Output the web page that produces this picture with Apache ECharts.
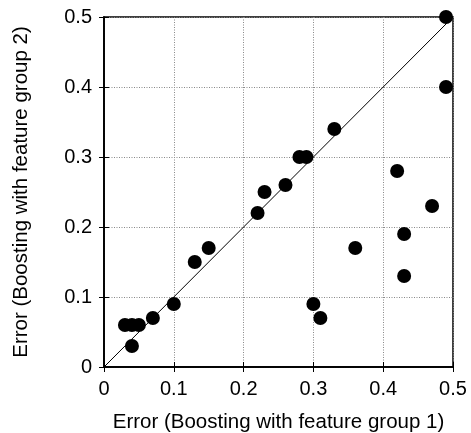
<!DOCTYPE html>
<html><head><meta charset="utf-8">
<script src="https://cdn.jsdelivr.net/npm/echarts@6/dist/echarts.min.js"></script>
<style>html,body{margin:0;padding:0;background:#fff}#c{width:471px;height:433px}</style>
</head><body><div id="c"></div>
<script>
const xTitle = 'Error (Boosting with feature group 1)';
const yTitle = 'Error (Boosting with feature group 2)';
const group1Error = [0.49,0.49,0.33,0.28,0.29,0.42,0.26,0.23,0.22,0.47,0.43,0.36,0.15,0.13,0.43,0.10,0.30,0.31,0.07,0.03,0.04,0.05,0.04];
const group2Error = [0.50,0.40,0.34,0.30,0.30,0.28,0.26,0.25,0.22,0.23,0.19,0.17,0.17,0.15,0.13,0.09,0.09,0.07,0.07,0.06,0.06,0.06,0.03];
const diagonal = [[0,0],[0.5,0.5]];
const tickLabels = ['0','0.1','0.2','0.3','0.4','0.5'];

const pts = group1Error.map((x,i)=>[x, group2Error[i]]);
const font = 'Liberation Sans, Arial, sans-serif';
const fmt = v => tickLabels[Math.round(v*10)];
const axisCommon = {
  type:'value', min:0, max:0.5, interval:0.1,
  axisLine:{show:true, lineStyle:{color:'#000', width:1.5}},
  axisTick:{show:true, inside:true, length:5, lineStyle:{color:'#000'}},
  splitLine:{show:true, lineStyle:{color:'#888', type:[1,1.5], width:1}},
  axisLabel:{color:'#000', fontFamily:font, fontSize:20, formatter:fmt},
  nameLocation:'middle',
  nameTextStyle:{color:'#000', fontFamily:font, fontSize:20.5}
};
const mirror = {
  type:'value', min:0, max:0.5, interval:0.1,
  axisLine:{show:true, lineStyle:{color:'#000', width:1.5}},
  axisTick:{show:true, inside:true, length:5, lineStyle:{color:'#000'}},
  splitLine:{show:false}, axisLabel:{show:false}
};
const chart = echarts.init(document.getElementById('c'));
chart.setOption({
  animation:false,
  grid:{left:104, right:18, top:17, bottom:66, show:true, borderColor:'#000', borderWidth:1.5, containLabel:false, outerBoundsMode:'none'},
  xAxis:[
    Object.assign({}, axisCommon, {name:xTitle, nameGap:45, axisLabel:Object.assign({}, axisCommon.axisLabel, {margin:12})}),
    Object.assign({}, mirror, {position:'top'})
  ],
  yAxis:[
    Object.assign({}, axisCommon, {name:yTitle, nameGap:72, axisLabel:Object.assign({}, axisCommon.axisLabel, {margin:12})}),
    Object.assign({}, mirror, {position:'right'})
  ],
  series:[
    {type:'line', data:diagonal, symbol:'none', lineStyle:{color:'#000', width:1}, silent:true},
    {type:'scatter', data:pts, symbolSize:14, itemStyle:{color:'#000', opacity:1}}
  ]
});
</script></body></html>
